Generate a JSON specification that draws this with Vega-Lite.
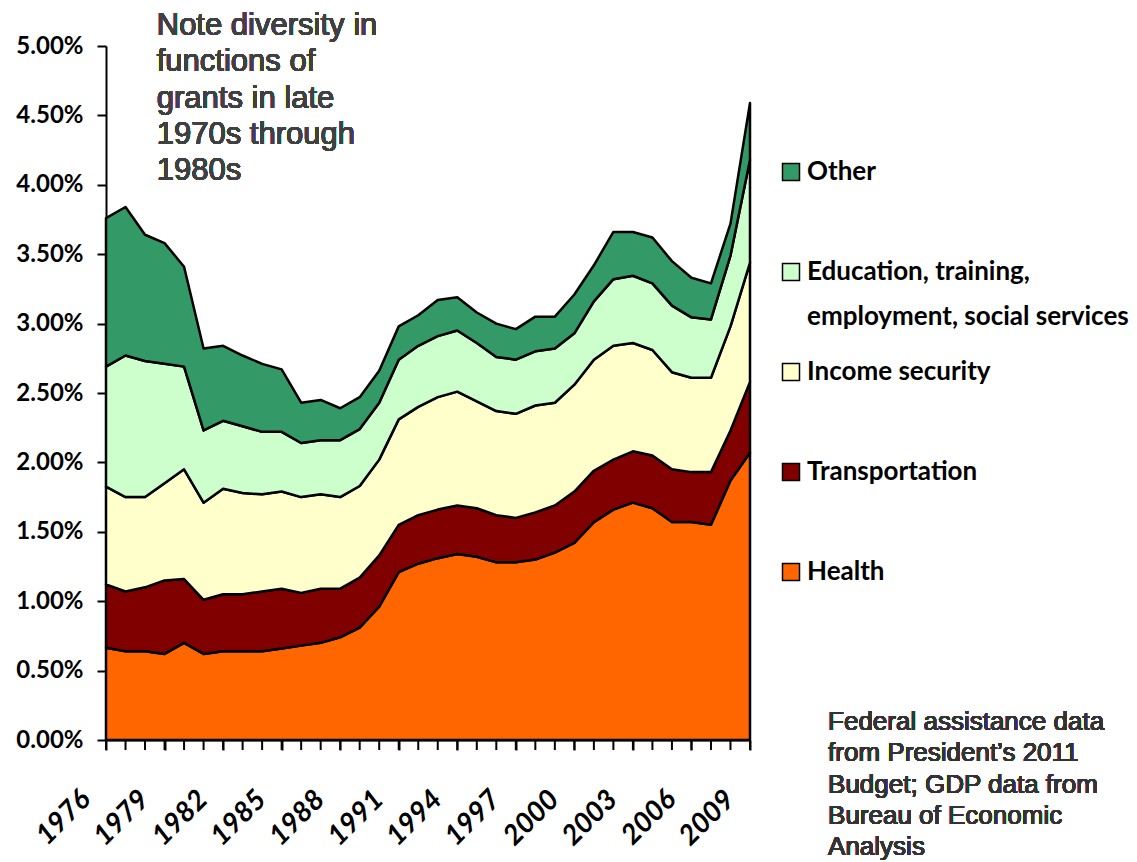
{
  "$schema": "https://vega.github.io/schema/vega-lite/v6.json",
  "width": 644,
  "height": 694,
  "autosize": {"type": "none"},
  "padding": {"left": 106, "top": 46, "right": 387, "bottom": 122},
  "background": "white",
  "config": {"view": {"stroke": null}, "axis": {"labelOverlap": false}},
  "data": {
    "values": [
      {"year": 1976, "Health": 0.665, "Transportation": 0.455, "Income security": 0.705, "Education, training, employment, social services": 0.865, "Other": 1.07},
      {"year": 1977, "Health": 0.64, "Transportation": 0.43, "Income security": 0.68, "Education, training, employment, social services": 1.02, "Other": 1.07},
      {"year": 1978, "Health": 0.64, "Transportation": 0.46, "Income security": 0.65, "Education, training, employment, social services": 0.98, "Other": 0.91},
      {"year": 1979, "Health": 0.62, "Transportation": 0.53, "Income security": 0.70, "Education, training, employment, social services": 0.86, "Other": 0.87},
      {"year": 1980, "Health": 0.70, "Transportation": 0.46, "Income security": 0.79, "Education, training, employment, social services": 0.74, "Other": 0.72},
      {"year": 1981, "Health": 0.62, "Transportation": 0.39, "Income security": 0.70, "Education, training, employment, social services": 0.52, "Other": 0.59},
      {"year": 1982, "Health": 0.64, "Transportation": 0.41, "Income security": 0.76, "Education, training, employment, social services": 0.49, "Other": 0.54},
      {"year": 1983, "Health": 0.64, "Transportation": 0.41, "Income security": 0.73, "Education, training, employment, social services": 0.48, "Other": 0.51},
      {"year": 1984, "Health": 0.64, "Transportation": 0.43, "Income security": 0.70, "Education, training, employment, social services": 0.45, "Other": 0.49},
      {"year": 1985, "Health": 0.66, "Transportation": 0.43, "Income security": 0.70, "Education, training, employment, social services": 0.43, "Other": 0.45},
      {"year": 1986, "Health": 0.68, "Transportation": 0.38, "Income security": 0.69, "Education, training, employment, social services": 0.39, "Other": 0.29},
      {"year": 1987, "Health": 0.70, "Transportation": 0.39, "Income security": 0.68, "Education, training, employment, social services": 0.39, "Other": 0.29},
      {"year": 1988, "Health": 0.74, "Transportation": 0.35, "Income security": 0.66, "Education, training, employment, social services": 0.41, "Other": 0.23},
      {"year": 1989, "Health": 0.81, "Transportation": 0.36, "Income security": 0.66, "Education, training, employment, social services": 0.41, "Other": 0.23},
      {"year": 1990, "Health": 0.96, "Transportation": 0.37, "Income security": 0.69, "Education, training, employment, social services": 0.41, "Other": 0.23},
      {"year": 1991, "Health": 1.21, "Transportation": 0.34, "Income security": 0.76, "Education, training, employment, social services": 0.43, "Other": 0.24},
      {"year": 1992, "Health": 1.27, "Transportation": 0.35, "Income security": 0.78, "Education, training, employment, social services": 0.44, "Other": 0.22},
      {"year": 1993, "Health": 1.31, "Transportation": 0.35, "Income security": 0.81, "Education, training, employment, social services": 0.44, "Other": 0.26},
      {"year": 1994, "Health": 1.34, "Transportation": 0.35, "Income security": 0.82, "Education, training, employment, social services": 0.44, "Other": 0.24},
      {"year": 1995, "Health": 1.32, "Transportation": 0.35, "Income security": 0.77, "Education, training, employment, social services": 0.42, "Other": 0.22},
      {"year": 1996, "Health": 1.28, "Transportation": 0.34, "Income security": 0.75, "Education, training, employment, social services": 0.39, "Other": 0.24},
      {"year": 1997, "Health": 1.28, "Transportation": 0.32, "Income security": 0.75, "Education, training, employment, social services": 0.39, "Other": 0.22},
      {"year": 1998, "Health": 1.30, "Transportation": 0.34, "Income security": 0.77, "Education, training, employment, social services": 0.39, "Other": 0.25},
      {"year": 1999, "Health": 1.35, "Transportation": 0.34, "Income security": 0.74, "Education, training, employment, social services": 0.39, "Other": 0.23},
      {"year": 2000, "Health": 1.42, "Transportation": 0.37, "Income security": 0.77, "Education, training, employment, social services": 0.37, "Other": 0.28},
      {"year": 2001, "Health": 1.57, "Transportation": 0.37, "Income security": 0.80, "Education, training, employment, social services": 0.42, "Other": 0.26},
      {"year": 2002, "Health": 1.66, "Transportation": 0.36, "Income security": 0.82, "Education, training, employment, social services": 0.48, "Other": 0.34},
      {"year": 2003, "Health": 1.71, "Transportation": 0.37, "Income security": 0.78, "Education, training, employment, social services": 0.485, "Other": 0.315},
      {"year": 2004, "Health": 1.67, "Transportation": 0.38, "Income security": 0.76, "Education, training, employment, social services": 0.48, "Other": 0.33},
      {"year": 2005, "Health": 1.57, "Transportation": 0.38, "Income security": 0.70, "Education, training, employment, social services": 0.48, "Other": 0.32},
      {"year": 2006, "Health": 1.57, "Transportation": 0.36, "Income security": 0.68, "Education, training, employment, social services": 0.435, "Other": 0.285},
      {"year": 2007, "Health": 1.55, "Transportation": 0.38, "Income security": 0.68, "Education, training, employment, social services": 0.42, "Other": 0.26},
      {"year": 2008, "Health": 1.87, "Transportation": 0.36, "Income security": 0.75, "Education, training, employment, social services": 0.51, "Other": 0.23},
      {"year": 2009, "Health": 2.07, "Transportation": 0.51, "Income security": 0.86, "Education, training, employment, social services": 0.74, "Other": 0.41}
    ]
  },
  "layer": [
    {
      "transform": [
        {"fold": ["Health", "Transportation", "Income security", "Education, training, employment, social services", "Other"], "as": ["category", "value"]},
        {"calculate": "indexof(['Health', 'Transportation', 'Income security', 'Education, training, employment, social services', 'Other'], datum.category)", "as": "stackOrder"}
      ],
      "mark": {"type": "area", "stroke": "black", "strokeWidth": 2.5, "strokeJoin": "round"},
      "encoding": {
        "x": {
          "field": "year", "type": "quantitative",
          "scale": {"domain": [1976, 2009], "nice": false, "zero": false},
          "axis": {
            "title": null, "grid": false,
            "values": [1976, 1979, 1982, 1985, 1988, 1991, 1994, 1997, 2000, 2003, 2006, 2009],
            "format": "d",
            "domainColor": "black", "domainWidth": 2,
            "tickColor": "black", "tickWidth": 2, "tickSize": 10,
            "labelAngle": -45, "labelAlign": "right", "labelBaseline": "middle",
            "labelPadding": 45, "labelOffset": -20,
            "labelFont": "Lato", "labelFontWeight": "bold", "labelFontStyle": "italic",
            "labelFontSize": 28, "labelColor": "black", "labelOverlap": false, "labelSeparation": -40, "labelBound": false
          }
        },
        "y": {
          "field": "value", "type": "quantitative", "stack": "zero",
          "scale": {"domain": [0, 5], "nice": false},
          "axis": {
            "title": null, "grid": false,
            "values": [0, 0.5, 1, 1.5, 2, 2.5, 3, 3.5, 4, 4.5, 5],
            "labelExpr": "format(datum.value, '.2f') + '%'",
            "domainColor": "black", "domainWidth": 2,
            "tickColor": "black", "tickWidth": 2, "tickSize": 9,
            "labelPadding": 14,
            "labelFont": "Lato", "labelFontWeight": "bold",
            "labelFontSize": 24, "labelColor": "black"
          }
        },
        "order": {"field": "stackOrder", "type": "quantitative"},
        "color": {
          "field": "category", "type": "nominal",
          "scale": {
            "domain": ["Other", "Education, training, employment, social services", "Income security", "Transportation", "Health"],
            "range": ["#339966", "#CCFFCC", "#FFFFCC", "#800000", "#FF6600"]
          },
          "legend": {
            "title": null, "orient": "none", "legendX": 672, "legendY": 113,
            "padding": 0,
            "symbolType": "square", "symbolSize": 289,
            "symbolStrokeColor": "black", "symbolStrokeWidth": 1.5,
            "labelFont": "Lato", "labelFontWeight": "bold", "labelFontSize": 26,
            "labelColor": "black", "labelLimit": 500, "labelOffset": 3,
            "labelBaseline": "middle",
            "rowPadding": 29,
            "labelExpr": "datum.label == 'Education, training, employment, social services' ? ['Education, training,', 'employment, social services'] : [datum.label, '']",
            "encode": {"labels": {"update": {"lineHeight": {"value": 45}, "baseline": {"value": "middle"}}}}
          }
        }
      }
    },
    {
      "mark": {"type": "tick", "orient": "vertical", "size": 10, "thickness": 2, "yOffset": 5, "color": "black", "opacity": 1},
      "encoding": {
        "x": {"field": "year", "type": "quantitative"},
        "y": {"datum": 0, "type": "quantitative"}
      }
    },
    {
      "mark": {
        "type": "text", "align": "left", "baseline": "alphabetic",
        "font": "Liberation Sans", "fontSize": 31, "fontWeight": "normal", "lineHeight": 36.3, "color": "#404040",
        "text": ["Note diversity in", "functions of", "grants in late", "1970s through", "1980s"]
      },
      "encoding": {
        "x": {"datum": 1978.6, "type": "quantitative"},
        "y": {"datum": 5.079, "type": "quantitative"}
      }
    },
    {
      "mark": {
        "type": "text", "align": "left", "baseline": "alphabetic",
        "font": "Liberation Sans", "fontSize": 26, "fontWeight": "normal", "lineHeight": 31.3, "color": "#333333",
        "text": ["Federal assistance data", "from President\u2019s 2011", "Budget; GDP data from", "Bureau of Economic", "Analysis"]
      },
      "encoding": {
        "x": {"datum": 2013.0, "type": "quantitative"},
        "y": {"datum": 0.072, "type": "quantitative"}
      }
    }
  ]
}
